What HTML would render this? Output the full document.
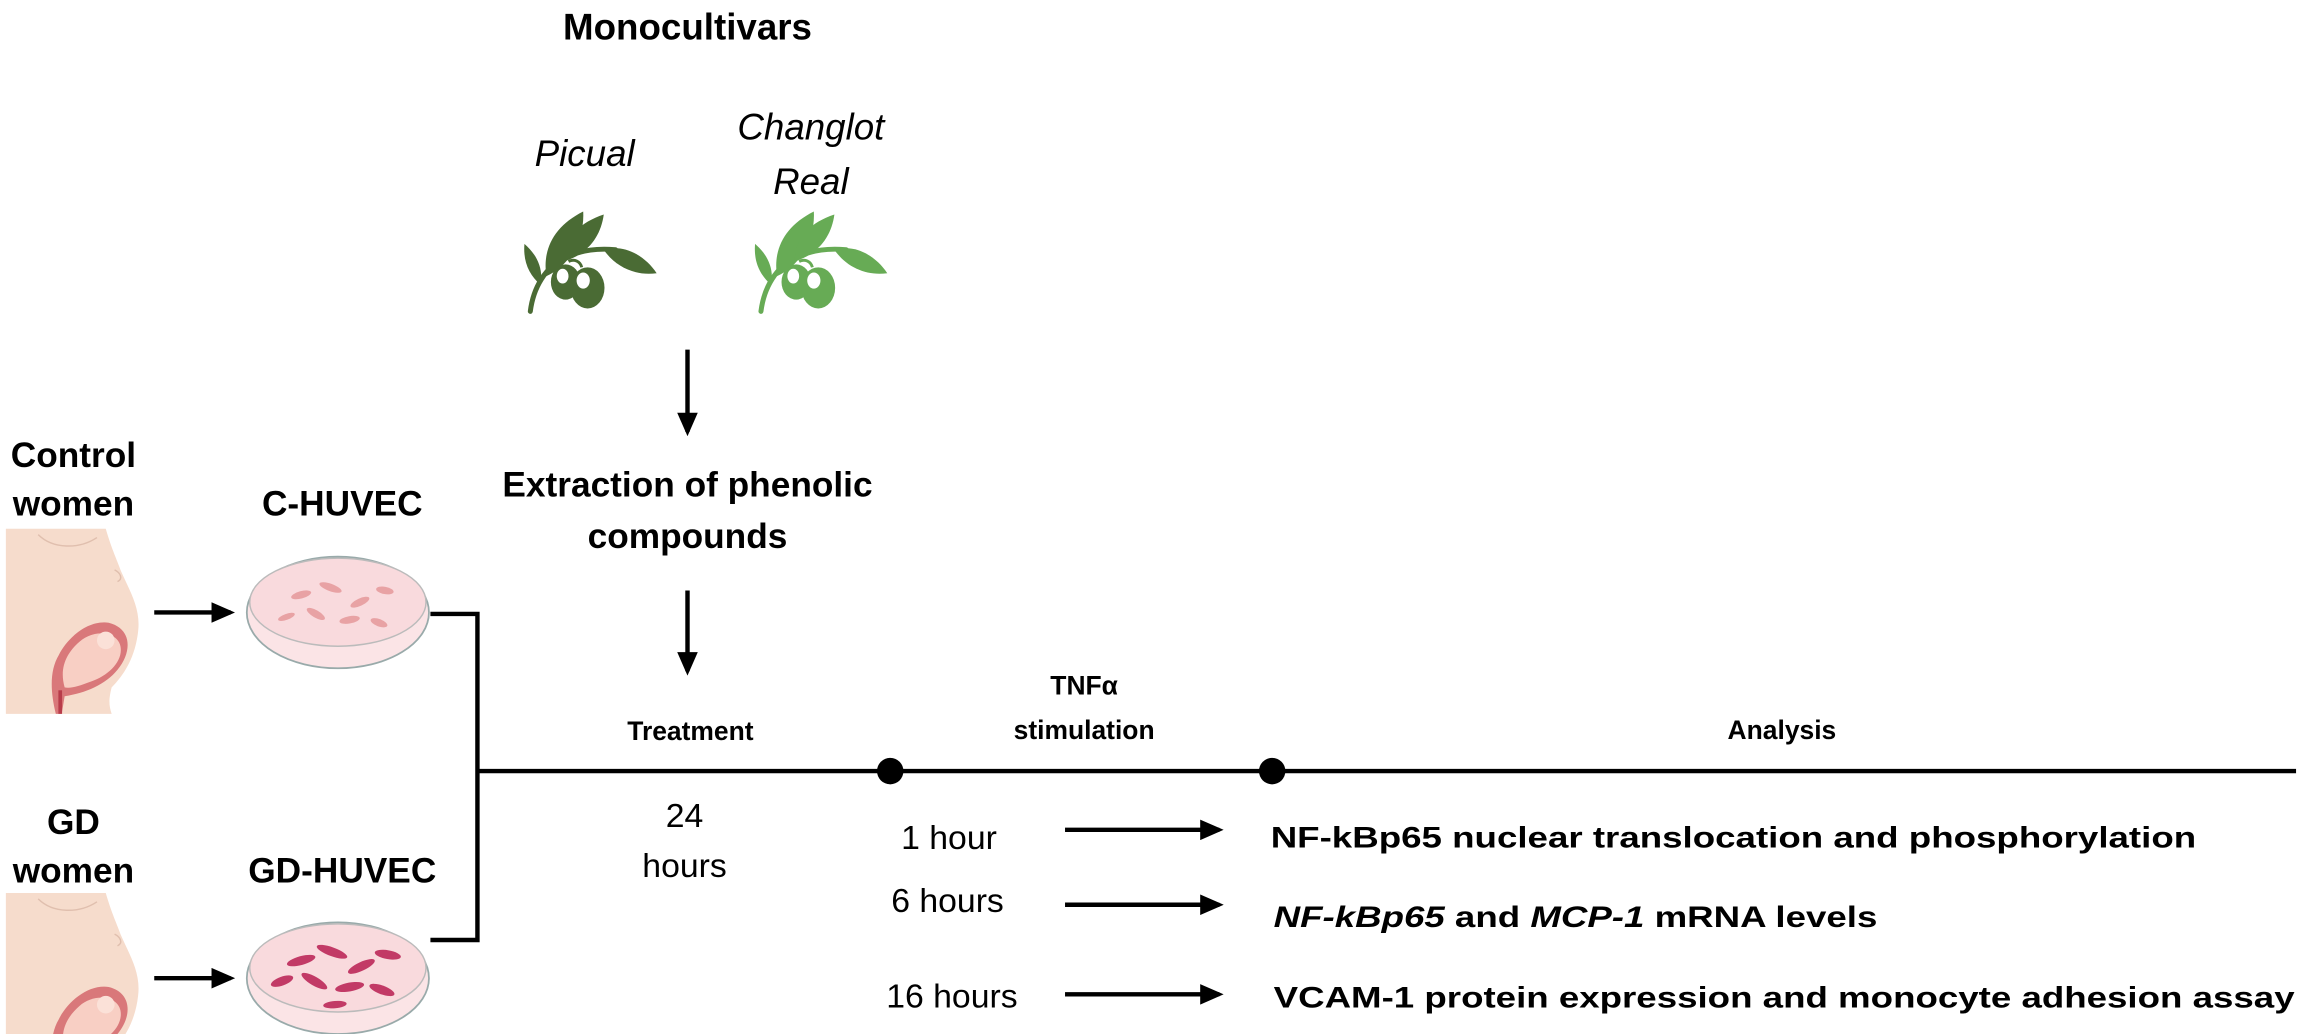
<!DOCTYPE html>
<html><head><meta charset="utf-8"><style>
html,body{margin:0;padding:0;background:#fff;width:2299px;height:1034px;overflow:hidden}
svg{display:block}
text{font-family:"Liberation Sans",Arial,sans-serif;fill:#000}
.b{font-weight:bold}
</style></head><body>
<svg width="2299" height="1034" viewBox="0 0 1565 704" preserveAspectRatio="none" xmlns="http://www.w3.org/2000/svg">
<defs>
<marker id="ah" markerWidth="16" markerHeight="14" refX="13" refY="7" orient="auto" markerUnits="userSpaceOnUse" viewBox="0 0 16 14"><path d="M0,0 L16,7 L0,14 z" fill="#000"/></marker>
<g id="olive">
  <path d="M6,66 C8,50 16,36 30,29 C42,24 52,23 64,24" fill="none" stroke="currentColor" stroke-width="3.4" stroke-linecap="round"/>
  <path d="M17,42 C14,24 22,8 42,-2 C43,16 34,34 17,42 z" fill="currentColor"/>
  <path d="M29,32 C29,17 38,6 56,0 C54,15 45,27 29,32 z" fill="currentColor"/>
  <path d="M2,20 C10,27 15,36 13,48 C5,41 1,32 2,20 z" fill="currentColor"/>
  <path d="M56,24 C70,20 84,28 92,40 C78,42 64,36 56,24 z" fill="currentColor"/>
  <path d="M32,32 C36,30 40,32 41,36" fill="none" stroke="currentColor" stroke-width="2"/>
  <ellipse cx="30" cy="46" rx="10" ry="12" fill="currentColor"/>
  <ellipse cx="45" cy="50" rx="11.5" ry="14" fill="currentColor"/>
  <ellipse cx="28" cy="42" rx="4" ry="5" fill="#fff"/>
  <ellipse cx="42" cy="45" rx="4.5" ry="5.5" fill="#fff"/>
</g>
<g id="woman">
  <path d="M0,0 L68,0 C72,14 76,22 78,28 C84,42 92,54 90,70 C88,88 80,100 72,108 C70,116 70,120 72,126 L0,126 z" fill="#f6dccc"/>
  <path d="M22,4 C32,14 50,14 62,6" fill="none" stroke="#e0bfae" stroke-width="1"/>
  <path d="M74,28 C78,30 80,34 76,36" fill="none" stroke="#e0bfae" stroke-width="1"/>
  <path d="M34,126 C30,110 30,96 36,86 C42,74 56,62 70,64 C86,68 86,84 76,96 C68,106 54,112 40,114 L38,126 z" fill="#d9787a"/>
  <path d="M40,108 C36,94 42,84 50,77 C60,68 76,70 78,80 C80,90 70,100 58,104 C50,107 44,109 40,108 z" fill="#f8cfc4"/>
  <circle cx="68" cy="76" r="6" fill="#fbe1d8"/>
  <path d="M37,126 L37,110" stroke="#b83c4a" stroke-width="2.5"/>
</g>
</defs>

<text class="b" x="468" y="27" font-size="25" text-anchor="middle">Monocultivars</text>
<text x="398" y="113" font-size="25" font-style="italic" text-anchor="middle">Picual</text>
<text x="552" y="95" font-size="25" font-style="italic" text-anchor="middle">Changlot</text>
<text x="552" y="132" font-size="25" font-style="italic" text-anchor="middle">Real</text>
<use href="#olive" x="355" y="146" style="color:#4a6b34"/>
<use href="#olive" x="512" y="146" style="color:#67ab55"/>

<line x1="468" y1="238" x2="468" y2="294" stroke="#000" stroke-width="3" marker-end="url(#ah)"/>
<text class="b" x="468" y="338" font-size="24" text-anchor="middle">Extraction of phenolic</text>
<text class="b" x="468" y="373" font-size="24" text-anchor="middle">compounds</text>
<line x1="468" y1="402" x2="468" y2="457" stroke="#000" stroke-width="3" marker-end="url(#ah)"/>

<text class="b" x="50" y="318" font-size="24" text-anchor="middle">Control</text>
<text class="b" x="50" y="351" font-size="24" text-anchor="middle">women</text>
<text class="b" x="233" y="351" font-size="24" text-anchor="middle">C-HUVEC</text>
<text class="b" x="50" y="568" font-size="24" text-anchor="middle">GD</text>
<text class="b" x="50" y="601" font-size="24" text-anchor="middle">women</text>
<text class="b" x="233" y="601" font-size="24" text-anchor="middle">GD-HUVEC</text>

<use href="#woman" x="4" y="360"/>
<use href="#woman" x="4" y="608"/>

<line x1="105" y1="417" x2="157" y2="417" stroke="#000" stroke-width="3" marker-end="url(#ah)"/>
<line x1="105" y1="666" x2="157" y2="666" stroke="#000" stroke-width="3" marker-end="url(#ah)"/>

<g>
  <ellipse cx="230" cy="417" rx="62" ry="38" fill="#fbe4e6" stroke="#9aa" stroke-width="1.2"/>
  <ellipse cx="230" cy="410" rx="60" ry="30" fill="#f9dadd" stroke="#bbb" stroke-width="1"/>
  <g fill="#e8a2a4">
    <ellipse cx="205" cy="405" rx="7" ry="2.5" transform="rotate(-15 205 405)"/>
    <ellipse cx="225" cy="400" rx="8" ry="2.5" transform="rotate(20 225 400)"/>
    <ellipse cx="245" cy="410" rx="7" ry="2.5" transform="rotate(-25 245 410)"/>
    <ellipse cx="262" cy="402" rx="6" ry="2.5" transform="rotate(10 262 402)"/>
    <ellipse cx="215" cy="418" rx="7" ry="2.5" transform="rotate(30 215 418)"/>
    <ellipse cx="238" cy="422" rx="7" ry="2.5" transform="rotate(-10 238 422)"/>
    <ellipse cx="195" cy="420" rx="6" ry="2" transform="rotate(-20 195 420)"/>
    <ellipse cx="258" cy="424" rx="6" ry="2.5" transform="rotate(20 258 424)"/>
  </g>
</g>
<g>
  <ellipse cx="230" cy="666" rx="62" ry="38" fill="#fbe4e6" stroke="#9aa" stroke-width="1.2"/>
  <ellipse cx="230" cy="659" rx="60" ry="30" fill="#f9dadd" stroke="#bbb" stroke-width="1"/>
  <g fill="#c23a66">
    <ellipse cx="205" cy="654" rx="10" ry="3" transform="rotate(-15 205 654)"/>
    <ellipse cx="226" cy="648" rx="11" ry="3" transform="rotate(20 226 648)"/>
    <ellipse cx="246" cy="658" rx="10" ry="3" transform="rotate(-25 246 658)"/>
    <ellipse cx="264" cy="650" rx="9" ry="3" transform="rotate(10 264 650)"/>
    <ellipse cx="214" cy="668" rx="10" ry="3" transform="rotate(30 214 668)"/>
    <ellipse cx="238" cy="672" rx="10" ry="3" transform="rotate(-10 238 672)"/>
    <ellipse cx="192" cy="668" rx="8" ry="3" transform="rotate(-20 192 668)"/>
    <ellipse cx="260" cy="674" rx="9" ry="3" transform="rotate(20 260 674)"/>
    <ellipse cx="228" cy="684" rx="8" ry="2.5" transform="rotate(-5 228 684)"/>
  </g>
</g>

<path d="M293,418 L325,418 L325,640 L293,640" fill="none" stroke="#000" stroke-width="3"/>
<line x1="325" y1="525" x2="1563" y2="525" stroke="#000" stroke-width="3"/>
<circle cx="606" cy="525" r="9" fill="#000"/>
<circle cx="866" cy="525" r="9" fill="#000"/>

<text class="b" x="470" y="504" font-size="18" text-anchor="middle">Treatment</text>
<text class="b" x="738" y="473" font-size="18" text-anchor="middle">TNFα</text>
<text class="b" x="738" y="503" font-size="18" text-anchor="middle">stimulation</text>
<text class="b" x="1213" y="503" font-size="18" text-anchor="middle">Analysis</text>

<text x="466" y="563" font-size="23" text-anchor="middle">24</text>
<text x="466" y="597" font-size="23" text-anchor="middle">hours</text>

<text x="646" y="578" font-size="23" text-anchor="middle">1 hour</text>
<text x="645" y="621" font-size="23" text-anchor="middle">6 hours</text>
<text x="648" y="686" font-size="23" text-anchor="middle">16 hours</text>

<line x1="725" y1="565" x2="830" y2="565" stroke="#000" stroke-width="3" marker-end="url(#ah)"/>
<line x1="725" y1="616" x2="830" y2="616" stroke="#000" stroke-width="3" marker-end="url(#ah)"/>
<line x1="725" y1="677" x2="830" y2="677" stroke="#000" stroke-width="3" marker-end="url(#ah)"/>

<text class="b" x="865" y="577" font-size="20" textLength="630" lengthAdjust="spacingAndGlyphs">NF-kBp65 nuclear translocation and phosphorylation</text>
<text class="b" x="867" y="631" font-size="20" textLength="411" lengthAdjust="spacingAndGlyphs"><tspan font-style="italic">NF-kBp65</tspan> and <tspan font-style="italic">MCP-1</tspan> mRNA levels</text>
<text class="b" x="867" y="686" font-size="20" textLength="695" lengthAdjust="spacingAndGlyphs">VCAM-1 protein expression and monocyte adhesion assay</text>
</svg>
</body></html>
